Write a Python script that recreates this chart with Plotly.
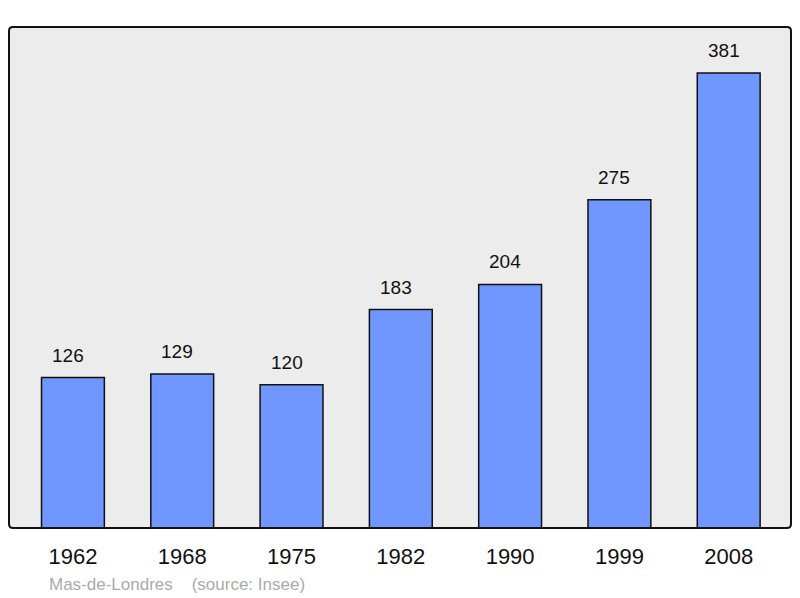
import plotly.graph_objects as go

years = ["1962", "1968", "1975", "1982", "1990", "1999", "2008"]
population = [126, 129, 120, 183, 204, 275, 381]

# page body has an 8px margin: figure coords = page coords - 8
W, H = 792, 590
L, T, R, B = 1, 19, 9, 70
pw = W - L - R
ph = H - T - B

fig = go.Figure()
fig.add_trace(go.Bar(
    x=years, y=population, width=0.575,
    marker=dict(color="#7096ff", line=dict(color="#111111", width=1.5)),
    hoverinfo="x+y",
))
for i, v in enumerate(population):
    fig.add_annotation(x=i, y=v, xref="x", yref="y", text=str(v), showarrow=False,
                       yshift=22.5, xshift=-5, yanchor="middle",
                       font=dict(family="Liberation Sans, Arial", size=19, color="#111111"))

fig.update_layout(
    width=W, height=H,
    margin=dict(l=L, r=R, t=T, b=B, autoexpand=False),
    paper_bgcolor="white", plot_bgcolor="#ececec",
    showlegend=False,
    xaxis=dict(type="category", range=[-0.585, 6.57], showgrid=False, zeroline=False,
               showline=False, ticks="", ticklabelstandoff=13,
               tickfont=dict(family="Liberation Sans, Arial", size=22, color="#111111")),
    yaxis=dict(range=[0, 419.6], showgrid=False, zeroline=False, showticklabels=False,
               showline=False, ticks=""),
)
rx, ry = 4 / pw, 4 / ph
path = (f"M {rx},0 L {1-rx},0 Q 1,0 1,{ry} L 1,{1-ry} Q 1,1 {1-rx},1 "
        f"L {rx},1 Q 0,1 0,{1-ry} L 0,{ry} Q 0,0 {rx},0 Z")
fig.add_shape(type="path", xref="paper", yref="paper", path=path,
              line=dict(color="#111111", width=2), fillcolor="rgba(0,0,0,0)", layer="above")
fig.add_annotation(xref="paper", yref="paper", x=(47 - 9) / pw, y=-56 / ph,
                   xanchor="left", yanchor="middle", showarrow=False,
                   text="Mas-de-Londres&nbsp;&nbsp;&nbsp;&nbsp;(source: Insee)",
                   font=dict(family="Liberation Sans, Arial", size=17, color="#aaaaaa"))
fig.write_html("out.html")
